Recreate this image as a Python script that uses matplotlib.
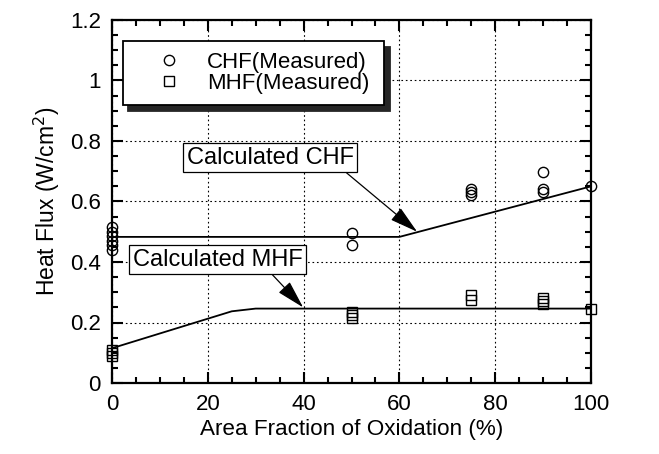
import numpy as np
import matplotlib.pyplot as plt
from matplotlib.ticker import MultipleLocator, FormatStrFormatter

plt.rcParams['font.family'] = ['Liberation Sans', 'DejaVu Sans']

# measured critical heat flux (circles), x = area fraction of oxidation (%)
chf_x = [0, 0, 0, 0, 0, 0, 50, 50, 75, 75, 75, 90, 90, 90, 100]
chf_y = [0.515, 0.50, 0.485, 0.47, 0.455, 0.44, 0.495, 0.457,
         0.62, 0.63, 0.64, 0.697, 0.64, 0.63, 0.65]
# measured minimum heat flux (squares)
mhf_x = [0, 0, 0, 50, 50, 50, 75, 75, 90, 90, 90, 100]
mhf_y = [0.09, 0.10, 0.11, 0.215, 0.225, 0.235, 0.275, 0.29,
         0.26, 0.27, 0.28, 0.245]
# calculated curves
calc_chf_x = [0, 60, 100]
calc_chf_y = [0.483, 0.483, 0.65]
calc_mhf_x = [0, 25, 30, 100]
calc_mhf_y = [0.115, 0.237, 0.246, 0.246]

legend_labels = ['CHF(Measured)', 'MHF(Measured)']

fig = plt.figure(figsize=(6.59, 4.54), dpi=100)
ax = fig.add_axes([112/659, 1-383/454, 479/659, 363/454])

ax.plot(calc_chf_x, calc_chf_y, color='k', lw=1.3, zorder=3)
ax.plot(calc_mhf_x, calc_mhf_y, color='k', lw=1.3, zorder=3)
ax.plot(chf_x, chf_y, 'o', ms=7.4, mfc='none', mec='k', mew=1.0,
        clip_on=False, zorder=4, label=legend_labels[0])
ax.plot(mhf_x, mhf_y, 's', ms=7.0, mfc='none', mec='k', mew=1.0,
        clip_on=False, zorder=4, label=legend_labels[1])

ax.set_xlim(0, 100)
ax.set_ylim(0, 1.2)
ax.xaxis.set_major_locator(MultipleLocator(20))
ax.xaxis.set_minor_locator(MultipleLocator(5))
ax.yaxis.set_major_locator(MultipleLocator(0.2))
ax.yaxis.set_minor_locator(MultipleLocator(0.05))
ax.yaxis.set_major_formatter(FormatStrFormatter('%g'))
ax.tick_params(which='both', direction='in', top=True, right=True,
               labelsize=16, width=1.5, pad=8)
ax.tick_params(which='major', length=8)
ax.tick_params(which='minor', length=4.5)
for s in ax.spines.values():
    s.set_linewidth(1.6)
ax.grid(True, which='major', ls=(0, (1.5, 2.5)), color='k', lw=0.8)

ax.set_xlabel('Area Fraction of Oxidation (%)', fontsize=16.2, labelpad=3)
ax.set_ylabel('Heat Flux (W/cm$^2$)', fontsize=16.5, labelpad=6)

leg = ax.legend(loc='upper left', bbox_to_anchor=(0.022, 0.942, 0.546, 0.0),
                mode='expand', borderaxespad=0, fontsize=16, fancybox=False,
                framealpha=1, edgecolor='k', handlelength=3.15, handletextpad=0.15,
                labelspacing=0.0, borderpad=0.5,
                shadow={'ox': 4, 'oy': -4, 'color': '0.15', 'alpha': 1})
leg.get_frame().set_linewidth(1.3)
leg.set_zorder(6)

arrow = dict(arrowstyle='-|>,head_length=1.1,head_width=0.3', color='k',
             lw=0.9, shrinkA=0, shrinkB=0, mutation_scale=16)
ax.annotate('Calculated CHF', xy=(63.7, 0.50), xytext=(33, 0.744),
            fontsize=17, ha='center', va='center', zorder=6,
            bbox=dict(boxstyle='square,pad=0.15', fc='white', ec='k', lw=0.9),
            arrowprops=dict(arrow, relpos=(0.93, 0.0)))
ax.annotate('Calculated MHF', xy=(39.9, 0.25), xytext=(22.1, 0.407),
            fontsize=17, ha='center', va='center', zorder=6,
            bbox=dict(boxstyle='square,pad=0.15', fc='white', ec='k', lw=0.9),
            arrowprops=dict(arrow, relpos=(0.80, 0.0)))

fig.savefig('out.png', dpi=100)
